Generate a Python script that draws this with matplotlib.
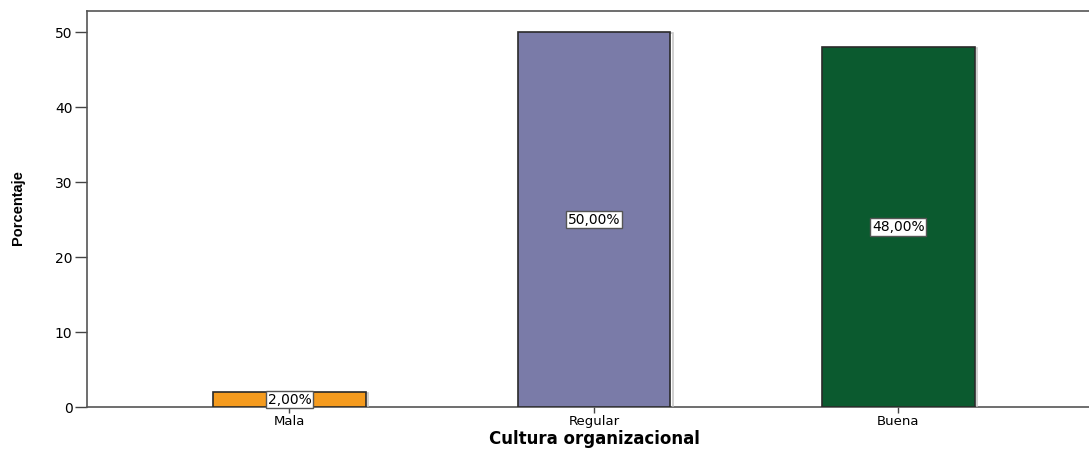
import matplotlib
matplotlib.use('Agg')
import matplotlib.pyplot as plt
import matplotlib.patheffects as pe

# Data
categories = ['Mala', 'Regular', 'Buena']
percentages = [2.0, 50.0, 48.0]
bar_colors = ['#F59B1E', '#7A7BA8', '#0B5A2F']
yticks = [0, 10, 20, 30, 40, 50]

plt.rcParams['font.family'] = ['DejaVu Sans']

fig = plt.figure(figsize=(10.89, 4.49), dpi=100)
ax = fig.add_axes([0.0799, 0.0935, 0.9201, 0.882])

x = list(range(len(categories)))
bars = ax.bar(x, percentages, width=0.5, color=bar_colors, edgecolor='#2a2a2a', linewidth=1.2,
              path_effects=[pe.SimpleLineShadow(offset=(2, -1), shadow_color='#bbbbbb', alpha=0.8), pe.Normal()],
              zorder=3)

# percentage labels in the middle of each bar
for xi, v in zip(x, percentages):
    ax.text(xi, v / 2, ('%.2f%%' % v).replace('.', ','), ha='center', va='center', fontsize=10,
            bbox=dict(boxstyle='square,pad=0.12', facecolor='white', edgecolor='#555555', linewidth=1),
            zorder=5)

ax.set_xlim(-0.665, 2.626)
ax.set_ylim(0, 52.8)
ax.set_xticks(x)
ax.set_xticklabels(categories, fontsize=9.5)
ax.set_yticks(yticks)
ax.set_yticklabels([str(t) for t in yticks], fontsize=10)
ax.tick_params(axis='x', direction='out', length=4, width=1, color='#444444', pad=2)
ax.tick_params(axis='y', direction='out', length=9, width=1, color='#444444', pad=1.5)

for side in ['left', 'bottom', 'top']:
    ax.spines[side].set_color('#555555')
    ax.spines[side].set_linewidth(1.2)
ax.spines['right'].set_visible(False)

# axis titles
fig.text(594 / 1089, 1 - 444 / 449, 'Cultura organizacional', ha='center', va='baseline',
         fontsize=12, fontweight='bold')
fig.text(18 / 1089, 1 - 208 / 449, 'Porcentaje', ha='center', va='center', rotation=90,
         fontsize=10.5, fontweight='bold', family=['Liberation Sans', 'DejaVu Sans'])

plt.savefig('out.png', dpi=100)
